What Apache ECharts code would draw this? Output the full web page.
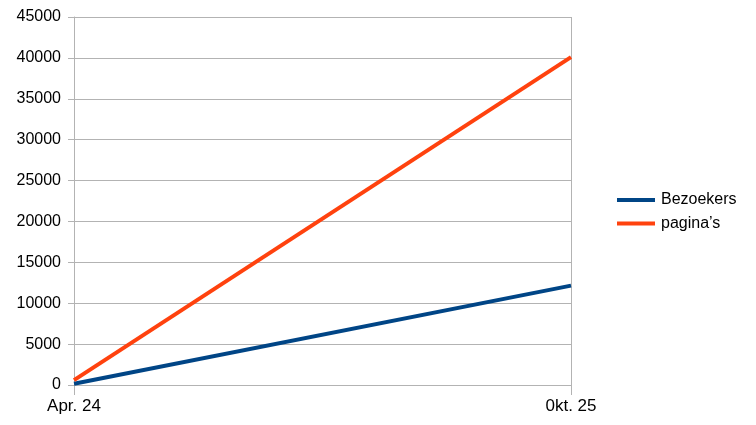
<!DOCTYPE html>
<html><head><meta charset="utf-8">
<script src="https://cdn.jsdelivr.net/npm/echarts@6/dist/echarts.min.js"></script>
<style>html,body{margin:0;padding:0;background:#fff}#c{width:756px;height:425px}</style>
</head><body><div id="c"></div>
<script>
const categories = ["Apr. 24", "0kt. 25"];
const bezoekers = [150, 12150];
const paginas = [600, 40100];
const yTicks = {min: 0, max: 45000, interval: 5000};

const chart = echarts.init(document.getElementById('c'), null, {renderer: 'canvas'});
const font = "'Liberation Sans', Arial, sans-serif";
chart.setOption({
  animation: false,
  backgroundColor: '#fff',
  grid: {left: 74, right: 185, top: 17, bottom: 40, containLabel: false},
  legend: {
    orient: 'vertical', left: 617, top: 192, itemWidth: 38, itemHeight: 4, itemGap: 7.5,
    icon: 'rect', padding: 0,
    textStyle: {fontFamily: font, fontSize: 16, color: '#000', padding: [0, 0, 0, 1]},
    data: ['Bezoekers', "pagina’s"]
  },
  xAxis: {
    type: 'category', data: categories, boundaryGap: false,
    axisLine: {show: true, lineStyle: {color: '#b3b3b3', width: 1}},
    axisTick: {show: true, length: 10, alignWithLabel: true, lineStyle: {color: '#b3b3b3'}},
    axisLabel: {fontFamily: font, fontSize: 17, color: '#000', margin: 13},
    splitLine: {show: true, lineStyle: {color: '#b3b3b3', width: 1}}
  },
  yAxis: {
    type: 'value', min: yTicks.min, max: yTicks.max, interval: yTicks.interval,
    axisLine: {show: true, lineStyle: {color: '#b3b3b3', width: 1}},
    axisTick: {show: true, length: 6, lineStyle: {color: '#b3b3b3'}},
    axisLabel: {fontFamily: font, fontSize: 16, color: '#000', margin: 13, formatter: v => String(v)},
    splitLine: {show: true, lineStyle: {color: '#b3b3b3', width: 1}}
  },
  series: [
    {name: 'Bezoekers', type: 'line', data: bezoekers, symbol: 'none', lineStyle: {color: '#004586', width: 4}, itemStyle: {color: '#004586'}},
    {name: "pagina’s", type: 'line', data: paginas, symbol: 'none', lineStyle: {color: '#ff420e', width: 4}, itemStyle: {color: '#ff420e'}}
  ]
});
</script></body></html>
